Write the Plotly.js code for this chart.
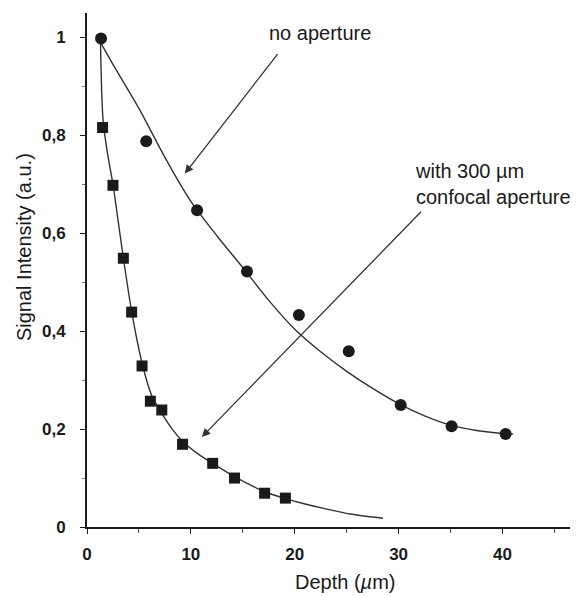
<!DOCTYPE html>
<html>
<head>
<meta charset="utf-8">
<script src="https://cdn.plot.ly/plotly-3.0.1.min.js"></script>
<style>html,body{margin:0;padding:0;background:#fff;}#chart{width:577px;height:596px;}</style>
</head>
<body>
<div id="chart"></div>
<script>
// Measured points: no aperture (circles)
const circleX = [1.35, 5.7, 10.6, 15.4, 20.4, 25.2, 30.2, 35.1, 40.3];
const circleY = [0.998, 0.788, 0.647, 0.522, 0.433, 0.359, 0.249, 0.206, 0.190];
// Measured points: with 300 µm confocal aperture (squares)
const squareX = [1.5, 2.5, 3.5, 4.3, 5.3, 6.1, 7.2, 9.2, 12.1, 14.2, 17.1, 19.1];
const squareY = [0.816, 0.698, 0.549, 0.439, 0.329, 0.257, 0.239, 0.169, 0.13, 0.1, 0.069, 0.059];
// Fitted curves
const fitCircleX = [1.3, 2.5, 5, 7.5, 10, 12.5, 15, 17.5, 20, 22.5, 25, 27.5, 30, 32.5, 35, 37.5, 40, 41];
const fitCircleY = [0.99, 0.945, 0.855, 0.755, 0.665, 0.595, 0.53, 0.463, 0.404, 0.358, 0.318, 0.283, 0.252, 0.227, 0.208, 0.197, 0.191, 0.19];
const fitSquareX = [1.3, 1.55, 2.0, 2.5, 3.0, 3.5, 4.3, 5.3, 6.2, 7.2, 8.2, 9.2, 10.5, 12.1, 14.2, 16, 17.1, 19.1, 21, 23, 25.5, 28.5];
const fitSquareY = [0.99, 0.83, 0.76, 0.70, 0.625, 0.55, 0.44, 0.335, 0.27, 0.232, 0.2, 0.175, 0.152, 0.13, 0.103, 0.083, 0.072, 0.058, 0.047, 0.037, 0.026, 0.018];
// Tick labels
const xTickVals = [0, 10, 20, 30, 40];
const xTickText = ['0', '10', '20', '30', '40'];
const yTickVals = [0, 0.2, 0.4, 0.6, 0.8, 1];
const yTickText = ['0', '0,2', '0,4', '0,6', '0,8', '1'];

const ink = '#1a1a1a';
const font = 'Liberation Sans, Arial, sans-serif';

const traces = [
  {x: fitCircleX, y: fitCircleY, mode: 'lines', line: {color: '#333', width: 1.4, shape: 'spline', smoothing: 0.8}, hoverinfo: 'skip'},
  {x: fitSquareX, y: fitSquareY, mode: 'lines', line: {color: '#333', width: 1.4, shape: 'spline', smoothing: 0.8}, hoverinfo: 'skip'},
  {x: circleX, y: circleY, mode: 'markers', marker: {symbol: 'circle', size: 12, color: ink}},
  {x: squareX, y: squareY, mode: 'markers', marker: {symbol: 'square', size: 11, color: ink}}
];

const layout = {
  width: 577, height: 596,
  margin: {l: 87, r: 7, t: 13, b: 69},
  paper_bgcolor: '#fff', plot_bgcolor: '#fff',
  showlegend: false,
  font: {family: font, color: ink},
  xaxis: {
    range: [0, 46.5], showgrid: false, zeroline: false,
    showline: true, linecolor: ink, linewidth: 2,
    ticks: 'outside', ticklen: 5, tickcolor: ink, tickwidth: 1,
    tickvals: xTickVals, ticktext: xTickText,
    minor: {dtick: 5, ticks: 'outside', ticklen: 4, tickcolor: '#555', showgrid: false},
    tickfont: {size: 17, family: font, color: ink, weight: 'bold'}, ticklabelstandoff: 6
  },
  yaxis: {
    range: [0, 1.05], showgrid: false, zeroline: false,
    showline: true, linecolor: ink, linewidth: 2,
    ticks: 'outside', ticklen: 5, tickcolor: ink, tickwidth: 1,
    tickvals: yTickVals, ticktext: yTickText,
    minor: {dtick: 0.1, ticks: 'outside', ticklen: 3, tickcolor: '#777', showgrid: false},
    tickfont: {size: 17, family: font, color: ink, weight: 'bold'}, ticklabelstandoff: 11
  },
  annotations: [
    {xref: 'paper', yref: 'paper', x: -0.130, y: 0.545, xanchor: 'center', yanchor: 'middle', textangle: -90, showarrow: false,
     text: 'Signal Intensity (a.u.)', font: {size: 20, family: font, color: ink}},
    {xref: 'paper', yref: 'paper', x: 0.535, y: -0.107, xanchor: 'center', yanchor: 'middle', showarrow: false,
     text: 'Depth (<i>µ</i>m)', font: {size: 20, family: font, color: ink}},
    {xref: 'x', yref: 'y', x: 22.4, y: 1.009, xanchor: 'center', showarrow: false,
     text: 'no aperture', font: {size: 20, family: font, color: ink}},
    {xref: 'x', yref: 'y', x: 31.4, y: 0.70, showarrow: false, xanchor: 'left', align: 'left',
     text: 'with 300 µm<br>confocal aperture', font: {size: 20, family: font, color: ink}},
    {xref: 'x', yref: 'y', x: 9.42, y: 0.722, axref: 'x', ayref: 'y', ax: 18.46, ay: 0.969,
     text: '', showarrow: true, arrowhead: 2, arrowsize: 1.3, arrowwidth: 1.3, arrowcolor: '#333'},
    {xref: 'x', yref: 'y', x: 11.06, y: 0.184, axref: 'x', ayref: 'y', ax: 32.3, ay: 0.647,
     text: '', showarrow: true, arrowhead: 2, arrowsize: 1.3, arrowwidth: 1.3, arrowcolor: '#333'}
  ]
};

Plotly.newPlot('chart', traces, layout, {displayModeBar: false, staticPlot: true});
</script>
</body>
</html>
